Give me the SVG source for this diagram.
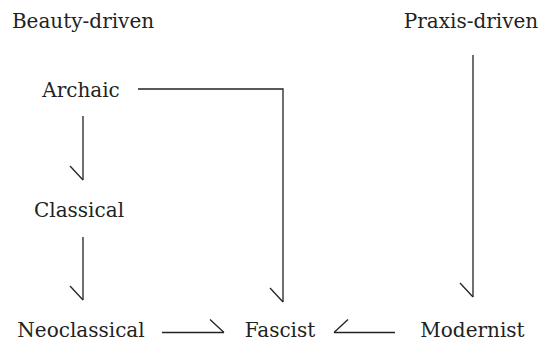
<svg xmlns="http://www.w3.org/2000/svg" width="541" height="348" viewBox="0 0 541 348">
<style>
  text { font-family: 'DejaVu Serif', 'Liberation Serif', serif; font-size: 20px; fill: #222; }
  .c { fill: none; stroke: #222; stroke-width: 1.3; }
</style>
<defs>
  <marker id="hl" markerUnits="userSpaceOnUse" orient="auto" refX="0" refY="0" markerWidth="20" markerHeight="20" overflow="visible">
    <path d="M-14,-13 L0,0" fill="none" stroke="#222" stroke-width="1.3"/>
  </marker>
  <marker id="hr" markerUnits="userSpaceOnUse" orient="auto" refX="0" refY="0" markerWidth="20" markerHeight="20" overflow="visible">
    <path d="M-14,13 L0,0" fill="none" stroke="#222" stroke-width="1.3"/>
  </marker>
</defs>
<rect width="541" height="348" fill="#fff"/>
<g id="beauty"><text x="83" y="28" text-anchor="middle">Beauty-driven</text></g>
<g id="praxis"><text x="471" y="28" text-anchor="middle">Praxis-driven</text></g>
<g id="archaic"><text x="81" y="96.5" text-anchor="middle">Archaic</text></g>
<g id="classical"><text x="79" y="216.5" text-anchor="middle">Classical</text></g>
<g id="neoclassical"><text x="81" y="336.5" text-anchor="middle">Neoclassical</text></g>
<g id="fascist"><text x="280" y="336.5" text-anchor="middle">Fascist</text></g>
<g id="modernist"><text x="472.5" y="336.5" text-anchor="middle">Modernist</text></g>
<g id="connectors">
  <path class="c" d="M83,116 L83,180" marker-end="url(#hr)"/>
  <path class="c" d="M83,237 L83,300" marker-end="url(#hr)"/>
  <path class="c" d="M138,89 L283,89 L283,302" marker-end="url(#hr)"/>
  <path class="c" d="M473,55 L473,297" marker-end="url(#hr)"/>
  <path class="c" d="M162,332.5 L224,332.5" marker-end="url(#hl)"/>
  <path class="c" d="M395,332.5 L334,332.5" marker-end="url(#hr)"/>
</g>
</svg>
